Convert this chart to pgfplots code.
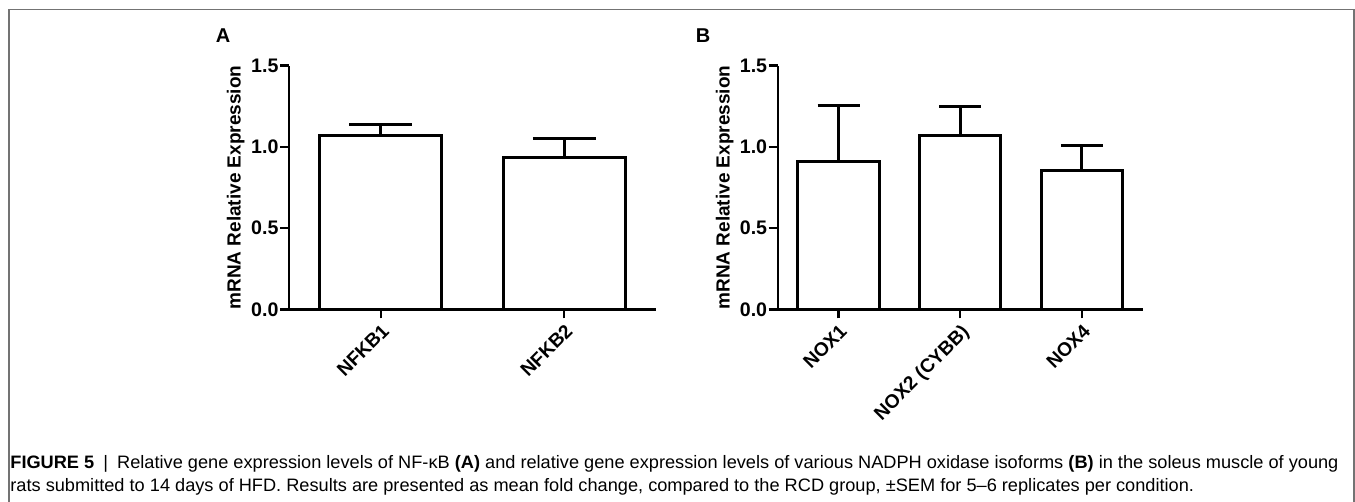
\documentclass[border=0pt]{standalone}
\usepackage{fontspec}
\setmainfont{Liberation Sans}
\usepackage{graphicx}
\usepackage{pgfplots}
\pgfplotsset{compat=1.18}

\newlength\capw
\newcommand\capfont{\fontsize{9}{11}\selectfont}
\newcommand\lineone{\textbf{FIGURE 5}\enspace|\enspace Relative gene expression levels of NF-κB \textbf{(A)} and relative gene expression levels of various NADPH oxidase isoforms \textbf{(B)} in the soleus muscle of young}
\newcommand\linetwo{rats submitted to 14 days of HFD. Results are presented as mean fold change, compared to the RCD group, ±SEM for 5–6 replicates per condition.}

\pgfplotsset{
  prism/.style={
    scale only axis, anchor=south west,
    height=121.8pt, ymin=0, ymax=1.5,
    ybar, bar width=0.667,
    axis x line=bottom, axis y line=left,
    axis line style={line width=1.2pt, -},
    tick style={line width=1.2pt, black},
    tick align=outside, major tick length=4.5pt,
    ytick={0,0.5,1,1.5},
    yticklabel style={font=\fontsize{9.8}{11}\selectfont\bfseries, inner sep=0.6pt,
      /pgf/number format/.cd, fixed, fixed zerofill, precision=1, assume math mode=true},
    xticklabel style={font=\fontsize{9.6}{11}\selectfont\bfseries, rotate=45, anchor=north east, inner sep=1.5pt},
    ylabel={mRNA Relative Expression},
    every axis y label/.style={at={(axis description cs:-0.145,0.5)}, rotate=90, anchor=center,
      font=\fontsize{9.5}{11}\selectfont\bfseries},
  },
  bars/.style={draw=black, fill=white, line width=1.5pt,
    error bars/.cd, y dir=plus, y explicit, error mark=|,
    error bar style={line width=1.5pt, black},
    error mark options={line width=1.5pt, black, mark size=#1}},
}

\begin{document}
\settowidth\capw{\capfont\lineone}%
\pgfmathsetmacro\capscale{664/\capw}%
\begin{tikzpicture}
\path[use as bounding box] (0,0) rectangle (677.5pt,-251pt);
\draw[black!55, line width=0.75pt] (4.5pt,-251pt) -- (4.5pt,-4.65pt) -- (677pt,-4.65pt) -- (677pt,-251pt);

\node[font=\fontsize{10}{12}\selectfont\bfseries] at (111.5pt,-18pt) {A};
\node[font=\fontsize{10}{12}\selectfont\bfseries] at (351.5pt,-18pt) {B};

\begin{axis}[prism, at={(144.5pt,-154.65pt)}, width=183.5pt,
    xmin=-0.5, xmax=1.5, xtick={0,1}, xticklabels={NFKB1,NFKB2}]
  \addplot[bars=15.75pt] coordinates {
    (0,1.068) +- (0,0.073)
    (1,0.935) +- (0,0.117)
  };
\end{axis}

\begin{axis}[prism, at={(388.85pt,-154.65pt)}, width=182.5pt,
    xmin=-0.5, xmax=2.5, xtick={0,1,2}, xticklabels={NOX1,NOX2 (CYBB),NOX4}]
  \addplot[bars=10.5pt] coordinates {
    (0,0.908) +- (0,0.347)
    (1,1.068) +- (0,0.180)
    (2,0.857) +- (0,0.152)
  };
\end{axis}

\node[anchor=base west, inner sep=0pt, font=\capfont] at (5pt,-234pt) {\scalebox{\capscale}[1]{\lineone}};
\node[anchor=base west, inner sep=0pt, font=\capfont] at (5pt,-245.5pt) {\scalebox{\capscale}[1]{\linetwo}};
\end{tikzpicture}
\end{document}
